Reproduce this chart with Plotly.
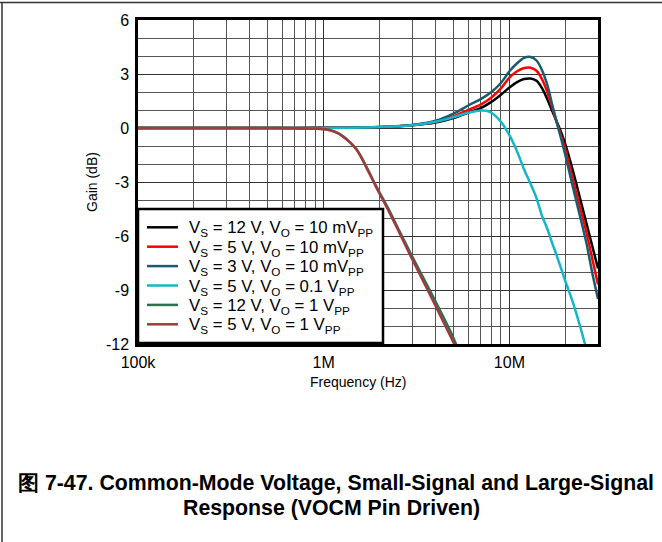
import plotly.graph_objects as go

# ---------------- data ----------------
freq_small = [1e5, 2e5, 5e5, 1e6, 2e6, 3e6, 4e6, 5e6, 6e6, 7e6, 8e6, 9e6, 10e6, 11e6, 12e6,
              13e6, 14e6, 15e6, 16e6, 17e6, 18e6, 19e6, 20e6, 22e6, 24e6, 26e6, 28e6, 30e6]
gain_12v_10m = [0, 0, 0, 0.01, 0.04, 0.15, 0.3, 0.55, 0.85, 1.1, 1.45, 1.85, 2.25, 2.55, 2.72,
                2.75, 2.62, 2.2, 1.6, 0.95, 0.35, -0.25, -0.9, -2.4, -3.9, -5.3, -6.6, -7.8]
gain_5v_10m = [0, 0, 0, 0.01, 0.05, 0.16, 0.35, 0.65, 1.0, 1.3, 1.7, 2.2, 2.8, 3.15, 3.33,
               3.35, 3.18, 2.7, 2.0, 1.15, 0.3, -0.45, -1.2, -2.9, -4.4, -5.8, -7.3, -8.7]
gain_3v_10m = [0, 0, 0, 0.01, 0.06, 0.17, 0.4, 0.8, 1.25, 1.6, 2.0, 2.5, 3.15, 3.6, 3.9,
               3.95, 3.75, 3.2, 2.4, 1.3, 0.3, -0.6, -1.5, -3.3, -4.9, -6.4, -8.1, -9.5]

freq_cyan = [1e5, 2e5, 5e5, 1e6, 2e6, 3e6, 4e6, 5e6, 6e6, 7e6, 7.5e6, 8e6, 9e6, 10e6, 11e6,
             12e6, 13e6, 14e6, 15e6, 16e6, 17e6, 18e6, 20e6, 22e6, 24e6, 26e6]
gain_5v_01 = [0, 0, 0, 0, 0.05, 0.15, 0.35, 0.6, 0.85, 0.97, 0.96, 0.85, 0.35, -0.4, -1.3,
              -2.3, -3.1, -3.9, -4.9, -5.6, -6.4, -7.1, -8.5, -9.7, -11.0, -12.3]

freq_large = [1e5, 2e5, 5e5, 7e5, 9e5, 1.07e6, 1.2e6, 1.37e6, 1.5e6, 1.62e6, 1.91e6, 2.26e6,
              2.55e6, 2.95e6, 3.55e6, 4.19e6, 4.94e6, 5.3e6]
gain_12v_1 = [0, 0, 0, -0.01, -0.04, -0.11, -0.3, -0.74, -1.17, -1.74, -3.2, -4.6,
              -5.7, -7.0, -8.6, -10.05, -11.55, -12.3]
gain_5v_1 = [0, 0, 0, -0.01, -0.04, -0.11, -0.3, -0.76, -1.2, -1.78, -3.26, -4.7,
             -5.8, -7.15, -8.8, -10.3, -11.8, -12.5]

series_names = [
    "V<sub>S</sub> = 12 V, V<sub>O</sub> = 10 mV<sub>PP</sub>",
    "V<sub>S</sub> = 5 V, V<sub>O</sub> = 10 mV<sub>PP</sub>",
    "V<sub>S</sub> = 3 V, V<sub>O</sub> = 10 mV<sub>PP</sub>",
    "V<sub>S</sub> = 5 V, V<sub>O</sub> = 0.1 V<sub>PP</sub>",
    "V<sub>S</sub> = 12 V, V<sub>O</sub> = 1 V<sub>PP</sub>",
    "V<sub>S</sub> = 5 V, V<sub>O</sub> = 1 V<sub>PP</sub>",
]
series_colors = ["#000000", "#FF0000", "#1C5B6E", "#14B6C9", "#2E7150", "#9E3C3C"]

x_tickvals = [1e5, 1e6, 1e7]
x_ticktext = ["100k", "1M", "10M"]
x_minor = [m * d for d in (1e5, 1e6) for m in range(2, 10)] + [2e7]
y_tickvals = [-12, -9, -6, -3, 0, 3, 6]
y_ticktext = ["-12", "-9", "-6", "-3", "0", "3", "6"]

# ---------------- figure ----------------
fig = go.Figure()
series = [
    (freq_small, gain_12v_10m),
    (freq_small, gain_5v_10m),
    (freq_small, gain_3v_10m),
    (freq_cyan, gain_5v_01),
    (freq_large, gain_12v_1),
    (freq_large, gain_5v_1),
]
for (fx, gy), name, col in zip(series, series_names, series_colors):
    fig.add_trace(go.Scatter(x=fx, y=gy, name=name, mode="lines", showlegend=False,
                             line=dict(color=col, width=2.5, shape="spline", smoothing=0.8)))

FONT = "Liberation Sans, Arial, sans-serif"
L, R, T, B = 138, 598, 20, 344
W, H = 662, 542


def px(xp):
    return (xp - L) / (R - L)


def py(yp):
    return (B - yp) / (B - T)


fig.update_layout(
    width=W, height=H,
    margin=dict(l=L, r=W - R, t=T, b=H - B, pad=0),
    paper_bgcolor="white", plot_bgcolor="white",
    font=dict(family=FONT, size=14, color="black"),
    showlegend=False,
)
fig.update_xaxes(
    type="log", range=[5, 7.4771],
    tickvals=x_tickvals, ticktext=x_ticktext, ticks="",
    showgrid=True, gridcolor="#333333", gridwidth=1,
    minor=dict(tickvals=x_minor, showgrid=True, gridcolor="#555555", gridwidth=1, ticks=""),
    showline=True, mirror=True, linecolor="black", linewidth=2.5,
    zeroline=False, tickfont=dict(size=16), ticklabelstandoff=2,
)
fig.update_yaxes(
    range=[-12, 6], tickvals=y_tickvals, ticktext=y_ticktext, ticks="",
    showgrid=True, gridcolor="#333333", gridwidth=1,
    minor=dict(dtick=1, showgrid=True, gridcolor="#555555", gridwidth=1, ticks=""),
    showline=True, mirror=True, linecolor="black", linewidth=2.5,
    zeroline=False, tickfont=dict(size=16), ticklabelstandoff=3,
)

# legend box (drawn manually to match the reference row spacing)
leg_x0, leg_x1, leg_y0, leg_y1 = 138, 383, 209, 343
fig.add_shape(type="rect", xref="paper", yref="paper",
              x0=px(leg_x0), x1=px(leg_x1), y0=py(leg_y1), y1=py(leg_y0),
              fillcolor="white", line=dict(color="black", width=2.5), layer="above")
row_y0, row_dy = 227.3, 19.4
for i, (name, col) in enumerate(zip(series_names, series_colors)):
    yy = row_y0 + i * row_dy
    fig.add_shape(type="line", xref="paper", yref="paper",
                  x0=px(147), x1=px(178), y0=py(yy), y1=py(yy),
                  line=dict(color=col, width=2.5), layer="above")
    fig.add_annotation(x=px(187), y=py(yy + 1.5), xref="paper", yref="paper", text=name,
                       showarrow=False, font=dict(size=16.8), xanchor="left", yanchor="middle")

fig.add_annotation(x=px(358), y=py(382), xref="paper", yref="paper", text="Frequency (Hz)",
                   showarrow=False, font=dict(size=14), xanchor="center", yanchor="middle")
fig.add_annotation(x=px(92), y=py(182), xref="paper", yref="paper", text="Gain (dB)",
                   showarrow=False, font=dict(size=14), textangle=-90,
                   xanchor="center", yanchor="middle")
fig.add_annotation(x=px(336), y=py(483), xref="paper", yref="paper",
                   text="<b>图 7-47. Common-Mode Voltage, Small-Signal and Large-Signal</b>",
                   showarrow=False, font=dict(size=21.3), xanchor="center", yanchor="middle")
fig.add_annotation(x=px(331), y=py(508), xref="paper", yref="paper",
                   text="<b>Response (VOCM Pin Driven)</b>",
                   showarrow=False, font=dict(size=21.3), xanchor="center", yanchor="middle")

# outer frame lines (top and left)
fig.add_shape(type="line", xref="paper", yref="paper", x0=px(0), x1=px(W), y0=py(2.5), y1=py(2.5),
              line=dict(color="#333333", width=1.5))
fig.add_shape(type="line", xref="paper", yref="paper", x0=px(2), x1=px(2), y0=py(2.5), y1=py(H),
              line=dict(color="#333333", width=1.5))

fig.write_html("out.html", config={"displayModeBar": False},
               post_script="document.body.style.margin='0px';")
